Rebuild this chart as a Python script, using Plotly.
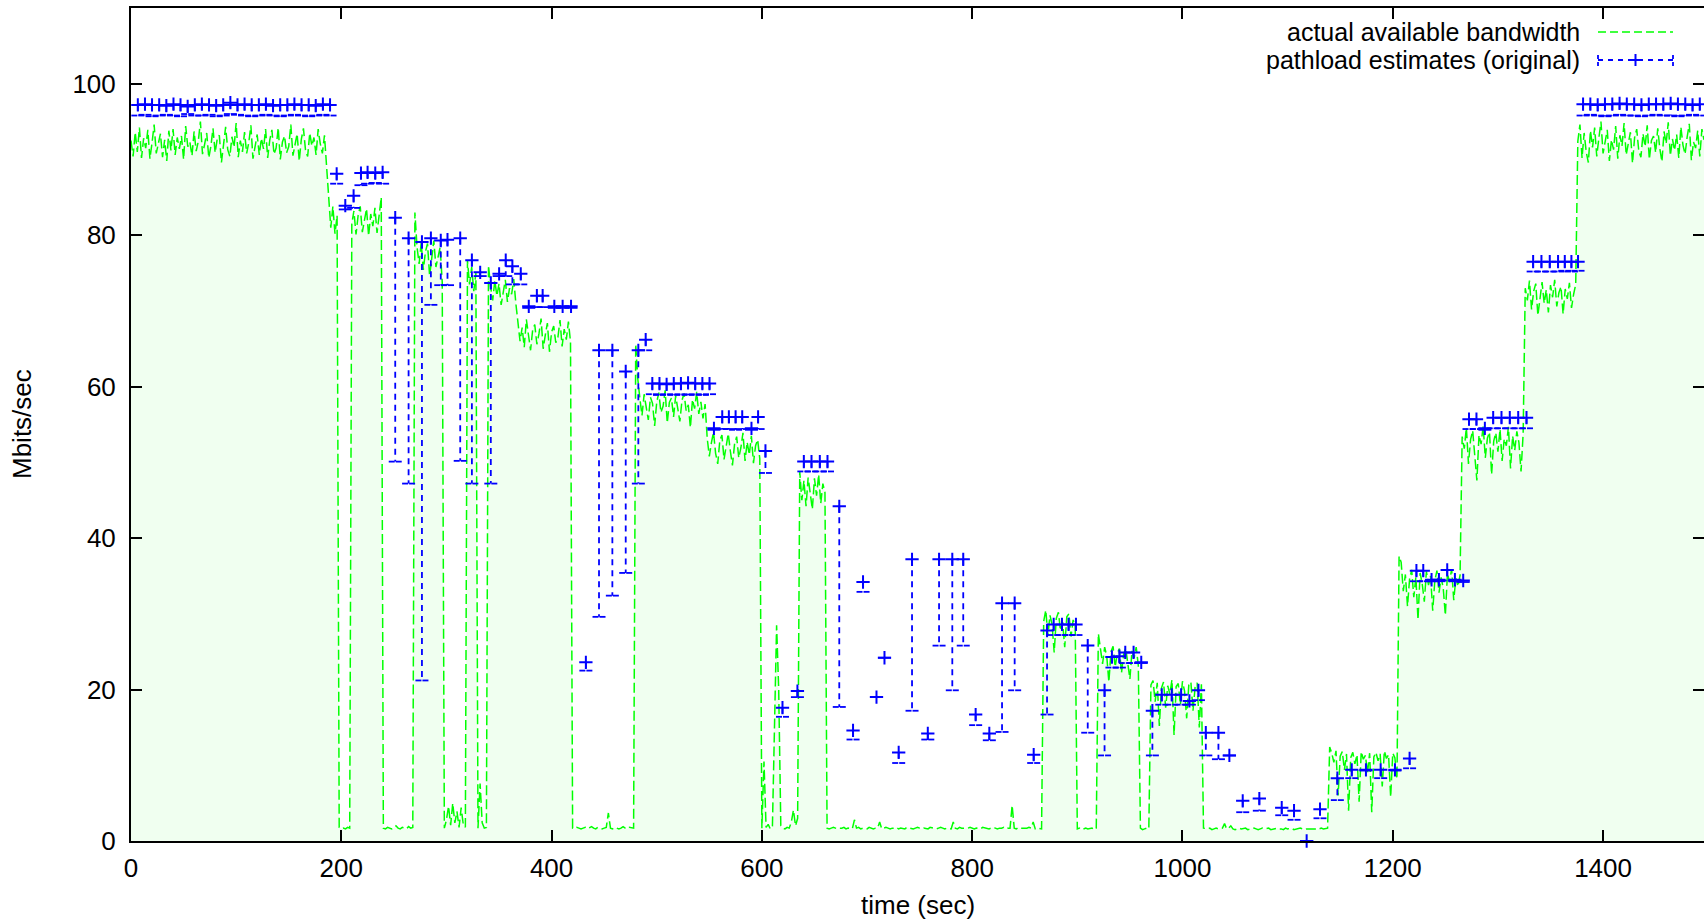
import plotly.graph_objects as go

# ---------------- actual available bandwidth (Mbits/sec), sampled every 2 s ----------------
bw_starts = [0, 186, 198, 210, 240, 270, 298, 320, 330, 340, 368, 420, 480, 548, 600, 636,
             662, 868, 900, 920, 960, 970, 1020, 1140, 1206, 1266, 1326, 1376]

bw_a = [92.5, 90.4, 93.6, 91.0, 94.2, 90.2, 92.8, 91.5, 93.9, 90.1, 92.2, 94.6, 90.8, 91.9, 93.4,
        90.3, 92.6, 89.8, 93.8, 91.2, 94.0, 90.6, 92.9, 91.4, 93.1, 90.0, 94.4, 91.7, 92.3, 90.5,
        93.7, 91.1, 92.4, 95.0, 90.7, 92.0, 93.5, 90.2, 91.8, 94.1, 90.9, 92.7, 93.2, 89.6, 92.1,
        94.3, 91.3, 90.4, 93.0, 91.6, 94.8, 90.3, 92.5, 91.0, 93.6, 90.8, 92.2, 94.5, 90.1, 91.9,
        93.3, 90.6, 92.8, 91.4, 94.0, 90.2, 92.6, 93.9, 90.7, 91.5, 94.2, 90.0, 92.3, 93.1, 90.9,
        91.7, 94.6, 90.5, 92.0, 93.4, 89.8, 92.7, 94.1, 91.2, 90.4, 93.5, 91.8, 92.9, 90.6, 94.0,
        92.1, 90.8, 93.2]
bw_b = [89.5, 85.5, 81.0, 83.8, 80.2, 82.6]
bw_c = [1.8, 1.6, 1.7, 1.6, 1.8, 1.7]
bw_d = [81.5, 83.2, 80.1, 82.6, 83.8, 80.4, 82.0, 83.5, 79.9, 82.8, 81.2, 83.6, 80.3, 82.4, 85.0]
bw_e = [1.7, 1.6, 1.8, 1.7, 1.6, 1.7, 2.0, 1.7, 1.6, 1.8, 1.7, 1.6, 1.9, 1.7, 1.8]
bw_f = [83.0, 78.5, 76.2, 79.0, 75.4, 77.8, 78.9, 74.6, 77.2, 79.3, 75.8, 77.0, 78.4, 73.8]
bw_g = [1.7, 2.8, 4.6, 2.1, 5.0, 2.4, 3.9, 1.8, 4.4, 2.2, 1.8]
bw_h = [76.6, 73.5, 75.8, 72.6, 75.0]
bw_i = [1.7, 7.6, 2.4, 1.7, 1.8]
bw_j = [76.0, 73.2, 71.4, 74.0, 72.0, 73.6, 70.8, 72.8, 74.1, 71.2, 73.0, 72.2, 74.2, 71.0]
bw_k = [68.5, 66.0, 67.8, 65.2, 68.9, 66.4, 64.8, 67.5, 68.2, 65.6, 67.0, 69.0, 65.0, 66.8, 68.4,
        64.6, 67.2, 68.0, 65.8, 66.5, 68.8, 65.3, 67.6, 66.2, 68.6, 65.9]
bw_l = [1.7, 1.6, 1.8, 1.7, 1.6, 1.7, 1.8, 1.6, 1.7, 1.9, 1.7, 1.6, 1.8, 1.7, 1.6,
        1.7, 1.8, 3.7, 1.7, 1.6, 1.8, 1.7, 1.6, 1.7, 1.9, 1.7, 1.6, 1.8, 1.7, 1.7]
bw_m = [65.6, 61.0, 58.4, 56.2, 59.0, 57.2, 55.6, 58.6, 57.8, 54.8, 58.0, 59.2, 56.6, 57.4, 59.5,
        55.2, 57.9, 58.5, 56.0, 58.8, 57.0, 55.4, 58.2, 59.1, 56.8, 57.6, 54.6, 58.3, 57.1, 59.3,
        56.4, 58.0, 55.8, 57.7]
bw_n = [53.2, 50.8, 52.6, 54.0, 51.2, 49.8, 52.9, 53.6, 50.4, 52.0, 53.8, 51.5, 49.6, 52.4, 53.4,
        50.6, 51.9, 53.9, 50.2, 52.7, 51.0, 53.5, 49.9, 52.2, 53.0, 50.5]
bw_o = [1.7, 10.5, 1.8, 2.2, 1.6, 1.8, 15.0, 28.5, 20.0, 2.0, 1.7, 1.6, 1.8, 1.7, 2.5, 4.1, 2.0, 3.0]
bw_p = [48.8, 45.0, 47.6, 44.2, 48.0, 46.2, 43.8, 47.9, 45.6, 48.4, 44.6, 47.2, 46.0]
bw_q = [1.7, 1.6, 1.7, 1.8, 1.7, 1.6, 1.7, 1.7, 1.8, 1.6,
        1.7, 1.7, 1.6, 2.8, 1.7, 1.8, 1.6, 1.7, 1.7, 1.6,
        1.8, 1.7, 1.6, 1.7, 1.7, 2.5, 1.6, 1.7, 1.8, 1.7,
        1.6, 1.7, 1.7, 1.8, 1.6, 1.7, 1.7, 1.6, 1.8, 1.7,
        1.7, 1.6, 1.7, 1.8, 1.7, 1.6, 1.7, 1.7, 1.6, 1.8,
        1.7, 1.7, 1.6, 1.7, 1.8, 1.7, 1.6, 1.7, 1.7, 1.6,
        2.5, 1.7, 1.6, 1.8, 1.7, 1.7, 1.6, 1.7, 1.8, 1.7,
        1.6, 1.7, 1.7, 1.6, 1.8, 1.7, 1.7, 1.6, 1.7, 1.8,
        1.7, 1.6, 1.7, 1.7, 1.8, 1.6, 1.7, 1.7, 4.7, 1.7,
        1.6, 1.8, 1.7, 1.7, 1.6, 1.7, 1.8, 1.7, 2.5, 1.6,
        1.7, 1.7, 1.6]
bw_r = [29.0, 30.5, 27.2, 29.8, 28.6, 24.9, 29.4, 30.2, 27.8, 28.9, 25.6, 29.6, 30.0, 27.0, 29.2, 28.4]
bw_s = [1.6, 1.7, 1.5, 1.6, 1.7, 1.6, 1.6, 1.7, 1.5, 1.6]
bw_t_ = [27.4, 25.2, 23.4, 25.6, 24.4, 21.0, 25.0, 25.7, 23.0, 24.8, 25.4, 22.2, 24.6, 25.5, 23.6,
         21.4, 25.1, 24.2, 25.6, 23.2]
bw_u = [1.7, 1.5, 1.6, 1.7, 1.6]
bw_v_ = [20.6, 21.2, 18.4, 20.9, 15.2, 20.2, 21.0, 17.6, 20.5, 19.4, 21.3, 14.0, 20.4, 20.8, 18.0,
         21.1, 19.8, 16.2, 20.6, 21.0, 17.2, 20.3, 20.9, 15.0, 20.7]
bw_w = [1.7, 1.6, 1.6, 1.7, 1.5, 1.6, 1.7, 1.6, 1.6, 1.7,
        2.3, 1.6, 1.7, 2.0, 1.6, 1.5, 1.6, 1.7, 1.6, 1.6,
        1.7, 1.5, 1.6, 1.6, 1.7, 1.6, 1.5, 1.6, 1.7, 1.6,
        1.6, 1.7, 1.5, 1.6, 1.6, 1.7, 1.6, 1.6, 1.5, 1.7,
        1.6, 1.6, 1.7, 1.5, 1.6, 1.6, 1.7, 1.6, 1.5, 1.6,
        1.6, 1.7, 1.6, 1.6, 1.5, 1.6, 1.7, 1.6, 1.6, 1.7]
bw_x = [12.4, 11.6, 10.4, 11.9, 6.0, 11.2, 11.8, 9.4, 11.5, 4.0, 11.0, 11.7, 10.2, 11.4, 5.2,
        11.8, 10.8, 11.3, 9.0, 11.6, 3.8, 11.1, 11.7, 10.6, 11.5, 7.2, 11.9, 10.9, 11.4, 5.8,
        11.6, 11.0, 8.2]
bw_y = [37.6, 36.8, 33.0, 35.2, 31.0, 34.6, 35.8, 32.2, 34.9, 29.2, 35.4, 34.0, 31.6, 35.6, 33.8,
        35.0, 30.4, 34.4, 35.7, 32.8, 34.8, 33.4, 29.8, 35.3, 34.2, 35.9, 31.8, 34.7, 33.6, 35.1]
bw_z = [53.4, 51.8, 54.6, 49.8, 53.0, 54.2, 51.2, 47.6, 53.6, 52.4, 54.8, 50.6, 53.2, 54.0, 48.4,
        52.8, 53.9, 51.4, 54.4, 50.2, 53.1, 52.2, 54.7, 49.2, 53.5, 51.6, 54.1, 52.6, 48.8, 53.8]
bw_aa = [73.0, 71.4, 74.0, 70.2, 72.6, 73.6, 69.4, 72.0, 73.8, 71.0, 72.8, 69.8, 73.4, 71.8, 74.1,
         70.6, 72.4, 73.2, 69.6, 72.9, 71.6, 73.7, 70.4, 72.2, 73.5]
bw_ab = [92.4, 94.6, 90.2, 93.5, 91.0, 89.6, 93.8, 91.6, 94.2, 90.4,
         92.8, 95.0, 90.8, 92.2, 93.9, 89.8, 92.6, 91.3, 94.4, 90.1,
         93.2, 91.8, 94.8, 90.6, 92.0, 93.6, 89.5, 92.9, 94.0, 91.1,
         90.3, 93.4, 91.7, 94.5, 90.0, 92.5, 93.1, 90.9, 94.1, 91.4,
         89.7, 93.7, 92.1, 94.9, 90.5, 92.7, 91.2, 93.3, 90.2, 94.3,
         91.9, 90.7, 93.0, 94.7, 89.9, 92.3, 91.5, 93.8, 90.4, 94.0,
         92.6]
bw_phases = [bw_a, bw_b, bw_c, bw_d, bw_e, bw_f, bw_g, bw_h, bw_i, bw_j, bw_k, bw_l, bw_m, bw_n,
             bw_o, bw_p, bw_q, bw_r, bw_s, bw_t_, bw_u, bw_v_, bw_w, bw_x, bw_y, bw_z, bw_aa, bw_ab]
BW_STEP = 2

# ---------------- pathload estimates: time, upper value ("+"), lower bound ----------------
est_time = [6.5, 13.3, 20.0, 26.8, 33.6, 40.4, 47.1, 53.9, 60.7, 67.4, 74.2, 81.0, 87.7, 94.5,
            101.3, 108.0, 114.8, 121.6, 128.3, 135.1, 141.9, 148.7, 155.4, 162.2, 169.0, 175.7,
            182.5, 189.3,
            195.6, 203.8, 211.7, 218.7, 225.0, 232.3, 239.3, 251.3, 264.0, 276.7,
            285.2, 294.6, 301.0, 313.1, 324.2, 332.1, 342.2, 350.1, 356.4, 362.7,
            370.7, 378.3, 386.0, 391.5, 402.6, 410.5, 418.5, 432.6, 445.1, 457.8,
            470.5, 482.5, 489.5,
            495.8, 502.6, 509.4, 516.2, 523.0, 529.8, 536.6, 543.4, 550.2,
            554.4, 562.3, 568.6, 575.0, 581.3, 590.1, 596.4, 603.4, 619.6, 633.8,
            639.9, 647.2, 655.1, 662.4, 673.6, 686.7, 696.2, 709.0, 716.6, 730.1,
            742.8, 757.8, 768.5, 781.1, 791.5, 803.3, 816.3, 828.4, 840.4, 858.5,
            871.2, 877.5, 885.4, 891.7, 898.7, 909.9, 925.9, 932.9, 940.0, 945.6,
            953.5, 960.8, 971.4, 980.3, 989.8, 998.7, 1006.6, 1015.2, 1022.2, 1034.2,
            1044.6, 1057.3, 1073.1, 1094.4, 1106.1, 1118.1, 1130.8, 1147.3, 1161.0, 1174.5,
            1188.5, 1202.1, 1216.0, 1222.5, 1229.0, 1236.9, 1243.9, 1251.8, 1259.1, 1267.0,
            1272.5, 1279.6, 1287.6, 1295.5, 1303.4, 1311.3, 1319.3, 1327.2,
            1333.5, 1341.4, 1349.3, 1357.2, 1363.6, 1369.9, 1376.2,
            1381.0, 1387.9, 1394.9, 1401.8, 1408.8, 1415.7, 1422.6, 1429.6, 1436.5, 1443.5,
            1450.4, 1457.3, 1464.3, 1471.2, 1478.2, 1485.1, 1492.0]
est_high = [97.2, 97.3, 97.2, 97.2, 97.1, 97.3, 97.2, 97.0, 97.2, 97.3, 97.2, 97.1, 97.2, 97.5,
            97.2, 97.3, 97.2, 97.2, 97.3, 97.1, 97.2, 97.2, 97.3, 97.2, 97.2, 97.1,
            97.3, 97.2,
            88.1, 83.9, 85.2, 88.2, 88.3, 88.2, 88.3, 82.3, 79.6, 79.1,
            79.6, 79.3, 79.4, 79.6, 76.7, 75.1, 73.7, 74.9, 76.7, 75.9,
            74.9, 70.6, 72.0, 72.0, 70.6, 70.6, 70.6, 23.6, 64.8, 64.8,
            62.0, 64.8, 66.2,
            60.4, 60.4, 60.3, 60.4, 60.4, 60.5, 60.4, 60.4, 60.4,
            54.5, 56.0, 56.0, 56.0, 56.0, 54.5, 56.0, 51.5, 17.6, 19.8,
            50.1, 50.1, 50.1, 50.1, 44.2, 14.6, 34.2, 19.0, 24.2, 11.7,
            37.2, 14.2, 37.2, 37.2, 37.2, 16.7, 14.2, 31.4, 31.4, 11.4,
            27.8, 28.6, 28.6, 28.6, 28.6, 25.8, 19.9, 24.3, 24.4, 24.9,
            24.9, 23.6, 17.2, 19.3, 19.3, 19.3, 18.5, 19.9, 14.3, 14.3,
            11.3, 5.3, 5.6, 4.4, 4.0, 0.0, 4.2, 8.3, 9.4, 9.4,
            9.4, 9.4, 10.9, 35.7, 35.7, 34.5, 34.5, 35.8, 34.5, 34.4,
            55.7, 55.7, 54.5, 55.9, 55.9, 55.9, 55.9, 55.9,
            76.5, 76.5, 76.5, 76.5, 76.5, 76.5, 76.5,
            97.3, 97.3, 97.2, 97.3, 97.3, 97.4, 97.3, 97.3, 97.2, 97.3,
            97.3, 97.3, 97.4, 97.3, 97.3, 97.2, 97.3]
est_low = [95.8, 95.9, 95.7, 95.8, 95.9, 95.8, 95.7, 96.0, 95.8, 95.8, 95.9, 95.7, 95.8, 96.0,
           95.9, 95.8, 95.7, 95.8, 95.9, 95.8, 95.7, 95.8, 95.9, 95.8, 95.7, 95.8,
           95.9, 95.8,
           86.8, 83.4, 83.6, 86.6, 86.8, 86.9, 86.8, 50.1, 47.2, 21.2,
           70.8, 73.4, 73.4, 50.2, 47.2, 74.6, 47.2, 74.6, 74.6, 73.5,
           73.5, 70.4, 70.5, 70.5, 70.4, 70.4, 70.4, 22.5, 29.6, 32.4,
           35.4, 47.2, 64.8,
           59.0, 58.9, 59.0, 58.9, 59.0, 58.9, 59.0, 58.9, 59.0,
           54.3, 54.4, 54.4, 54.3, 54.4, 54.3, 54.4, 48.6, 16.4, 19.0,
           48.8, 48.8, 48.8, 48.8, 17.7, 13.4, 32.9, 19.0, 24.2, 10.3,
           17.2, 13.4, 25.8, 19.9, 25.8, 15.3, 13.3, 14.4, 19.9, 10.3,
           16.7, 27.2, 27.2, 27.2, 27.2, 14.3, 11.3, 22.9, 22.9, 23.5,
           23.5, 23.5, 11.3, 18.0, 18.0, 18.0, 18.0, 18.6, 11.3, 10.8,
           11.3, 3.8, 4.0, 3.4, 2.8, 0.0, 3.0, 5.4, 8.3, 9.3,
           8.3, 9.3, 9.6, 34.3, 34.3, 34.3, 34.3, 34.4, 34.3, 34.2,
           54.4, 54.4, 54.3, 54.5, 54.5, 54.5, 54.5, 54.5,
           75.2, 75.2, 75.2, 75.2, 75.3, 75.2, 75.3,
           95.8, 95.9, 95.8, 95.7, 95.8, 95.9, 95.8, 95.8, 95.7, 95.8,
           95.9, 95.8, 95.8, 95.7, 95.8, 95.9, 95.8]

x_ticks = [0, 200, 400, 600, 800, 1000, 1200, 1400]
y_ticks = [0, 20, 40, 60, 80, 100]
X_RANGE = [0, 1496]
Y_RANGE = [0, 110]

# ---------------- layout geometry (pixels) ----------------
W, H = 1704, 924
ML, MR, MT, MB = 131, 0, 8, 83
PW, PH = W - ML - MR, H - MT - MB
FONT = "Liberation Sans, Arial, Helvetica, sans-serif"
FS = 26
FS_KEY = 25
GREEN = "#00ff00"
BLUE = "#0000ff"


def px_x(p):
    return (p - ML) / PW


def px_y(p):
    return (H - MB - p) / PH


# build green series
bw_time, bw_val = [], []
for start, vals in zip(bw_starts, bw_phases):
    for k, val in enumerate(vals):
        bw_time.append(start + BW_STEP * k)
        bw_val.append(val)

# error bars (dashed) and lower ticks
tick_half = 6.5 * (X_RANGE[1] - X_RANGE[0]) / PW
bar_x, bar_y = [], []
for t, hi, lo in zip(est_time, est_high, est_low):
    bar_x += [t, t, None]
    bar_y += [hi, lo, None]
    bar_x += [t - tick_half, t, None, t + tick_half, t, None]
    bar_y += [lo, lo, None, lo, lo, None]

fig = go.Figure()
fig.add_trace(go.Scatter(
    x=bw_time, y=bw_val, mode="lines", fill="tozeroy", fillcolor="#f0fff0",
    line=dict(color=GREEN, width=1.5, dash="10px,4px"), hoverinfo="skip",
    name="actual available bandwidth"))
fig.add_trace(go.Scatter(
    x=bar_x, y=bar_y, mode="lines", connectgaps=False,
    line=dict(color=BLUE, width=1.8, dash="6px,5px"), hoverinfo="skip",
    name="pathload estimates (original)"))
fig.add_trace(go.Scatter(
    x=est_time, y=est_high, mode="markers", cliponaxis=False,
    marker=dict(symbol="cross-thin", size=9.5, color=BLUE, line=dict(width=2, color=BLUE)),
    name="pathload estimates (original)"))

axis_common = dict(
    showline=True, linewidth=2, linecolor="black", mirror="ticks",
    ticks="inside", ticklen=11, tickwidth=2, tickcolor="black",
    showgrid=False, zeroline=False,
    tickfont=dict(family=FONT, size=FS, color="black"))

fig.update_xaxes(range=X_RANGE, tickvals=x_ticks, ticktext=[str(v) for v in x_ticks],
                 ticklabelstandoff=3, **axis_common)
fig.update_yaxes(range=Y_RANGE, tickvals=y_ticks, ticktext=[str(v) for v in y_ticks],
                 ticklabelstandoff=8, **axis_common)

KEY_Y1, KEY_Y2 = 32, 60
annotations = [
    dict(text="time (sec)", x=0.5, y=px_y(905), xref="paper", yref="paper",
         xanchor="center", yanchor="middle", showarrow=False,
         font=dict(family=FONT, size=FS, color="black")),
    dict(text="Mbits/sec", x=px_x(22), y=px_y(424), xref="paper", yref="paper",
         xanchor="center", yanchor="middle", textangle=-90, showarrow=False,
         font=dict(family=FONT, size=FS, color="black")),
    dict(text="actual available bandwidth", x=px_x(1582), y=px_y(KEY_Y1), xref="paper",
         yref="paper", xanchor="right", yanchor="middle", showarrow=False,
         font=dict(family=FONT, size=FS_KEY, color="black")),
    dict(text="pathload estimates (original)", x=px_x(1582), y=px_y(KEY_Y2), xref="paper",
         yref="paper", xanchor="right", yanchor="middle", showarrow=False,
         font=dict(family=FONT, size=FS_KEY, color="black")),
]

lx0, lx1, lxm = px_x(1598), px_x(1673), px_x(1635.5)
ly1, ly2 = px_y(KEY_Y1), px_y(KEY_Y2)
dy = 6 / PH
dx = 6.5 / PW
shapes = [
    dict(type="line", xref="paper", yref="paper", x0=lx0, x1=lx1, y0=ly1, y1=ly1,
         line=dict(color=GREEN, width=1.5, dash="8px,4px")),
    dict(type="line", xref="paper", yref="paper", x0=lx0, x1=lx1, y0=ly2, y1=ly2,
         line=dict(color=BLUE, width=1.8, dash="5px,5px")),
    dict(type="line", xref="paper", yref="paper", x0=lx0, x1=lx0, y0=ly2 - dy, y1=ly2 + dy,
         line=dict(color=BLUE, width=1.8, dash="4px,3px")),
    dict(type="line", xref="paper", yref="paper", x0=lx1, x1=lx1, y0=ly2 - dy, y1=ly2 + dy,
         line=dict(color=BLUE, width=1.8, dash="4px,3px")),
    dict(type="line", xref="paper", yref="paper", x0=lxm - dx, x1=lxm + dx, y0=ly2, y1=ly2,
         line=dict(color=BLUE, width=2)),
    dict(type="line", xref="paper", yref="paper", x0=lxm, x1=lxm, y0=ly2 - dy, y1=ly2 + dy,
         line=dict(color=BLUE, width=2)),
]

fig.update_layout(
    width=W, height=H, margin=dict(l=ML, r=MR, t=MT, b=MB, autoexpand=False),
    paper_bgcolor="white", plot_bgcolor="white", showlegend=False,
    font=dict(family=FONT, size=FS, color="black"),
    annotations=annotations, shapes=shapes)

# remove the browser's default page margin so the figure sits at the window origin
fig.write_html("out.html",
               config={"displayModeBar": False},
               post_script="document.body.style.margin='0px';document.body.style.overflow='hidden';")
